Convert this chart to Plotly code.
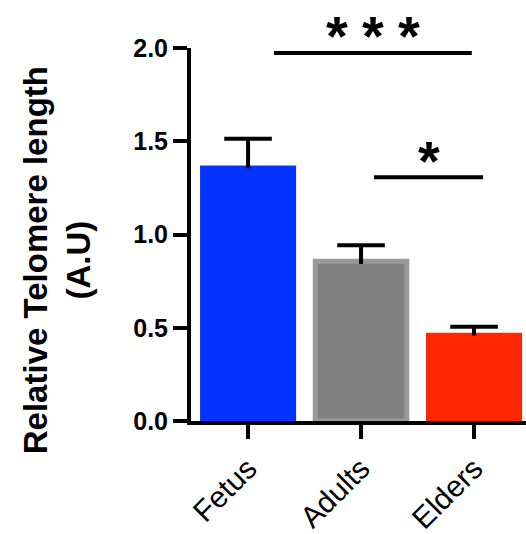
import plotly.graph_objects as go

categories = ["Fetus", "Adults", "Elders"]
means = [1.37, 0.857, 0.473]
sem = [0.143, 0.086, 0.032]
fill_colors = ["#0433FF", "#808080", "#FF2600"]
edge_colors = ["#0433FF", "#9A9A9A", "#FF2600"]
edge_widths = [0, 5, 0]
ytick_vals = [0, 0.5, 1.0, 1.5, 2.0]
ytick_text = ["0.0", "0.5", "1.0", "1.5", "2.0"]

# significance brackets: (x start, x end, y level, number of stars)
sig_lines = [
    (0.23, 1.98, 1.973, 3),
    (1.115, 2.08, 1.307, 1),
]

fig = go.Figure()
fig.add_trace(go.Bar(
    x=[0, 1, 2], y=means, width=[0.85, 0.81, 0.85],
    marker=dict(color=fill_colors, line=dict(color=edge_colors, width=edge_widths)),
    showlegend=False, hoverinfo="skip",
))

# error bars (upper only)
ex, ey = [], []
for i, (m, e) in enumerate(zip(means, sem)):
    ex += [i, i, None]
    ey += [m - 0.015, m + e, None]
fig.add_trace(go.Scatter(x=ex, y=ey, mode="lines",
                         line=dict(color="black", width=4),
                         showlegend=False, hoverinfo="skip"))
fig.add_trace(go.Scatter(x=[0, 1, 2], y=[m + e for m, e in zip(means, sem)],
                         mode="markers",
                         marker=dict(symbol="line-ew", size=34,
                                     line=dict(color="black", width=4)),
                         showlegend=False, hoverinfo="skip"))

for x0, x1, yv, n in sig_lines:
    fig.add_shape(type="line", x0=x0, x1=x1, y0=yv, y1=yv,
                  line=dict(color="black", width=4), layer="above")
    xc = (x0 + x1) / 2
    offs = [-0.315, 0, 0.315] if n == 3 else [0]
    for o in offs:
        fig.add_annotation(x=xc + o, y=yv, yshift=18 if n == 3 else 17,
                           text="<b>*</b>", showarrow=False,
                           font=dict(family="Liberation Sans", size=56, color="black"),
                           xanchor="center", yanchor="middle")

fig.add_annotation(xref="paper", yref="paper", x=-0.40, y=0.431,
                   text="<b>Relative Telomere length<br>(A.U)</b>",
                   textangle=-90, showarrow=False,
                   font=dict(family="Liberation Sans", size=33, color="black"),
                   xanchor="center", yanchor="middle")

fig.update_layout(
    width=526, height=534,
    margin=dict(l=191, r=0, t=48, b=113, autoexpand=False),
    paper_bgcolor="white", plot_bgcolor="white",
    xaxis=dict(range=[-0.505, 2.46], tickmode="array", tickvals=[0, 1, 2],
               ticktext=categories, tickangle=-45, automargin=False,
               showline=True, linewidth=4, linecolor="black",
               ticks="outside", ticklen=14, tickwidth=4, tickcolor="black",
               showgrid=False, zeroline=False, ticklabelstandoff=0,
               tickfont=dict(family="Liberation Sans", size=30, color="black")),
    yaxis=dict(range=[0, 2.0], tickmode="array", tickvals=ytick_vals,
               ticktext=["<b>%s</b>" % t for t in ytick_text], automargin=False,
               showline=True, linewidth=4, linecolor="black",
               ticks="outside", ticklen=14, tickwidth=4, tickcolor="black",
               showgrid=False, zeroline=False,
               tickfont=dict(family="Liberation Sans", size=25, color="black")),
)

fig.write_html("out.html")
